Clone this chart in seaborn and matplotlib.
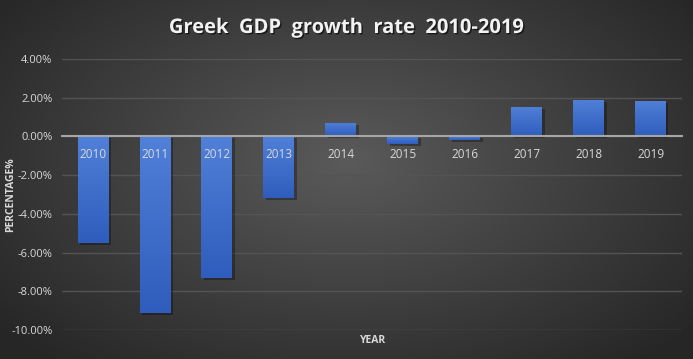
import numpy as np
import matplotlib
matplotlib.use("Agg")
import matplotlib.pyplot as plt
import matplotlib.patheffects as pe
from matplotlib.colors import LinearSegmentedColormap
import seaborn as sns
import pandas as pd

years = ['2010', '2011', '2012', '2013', '2014', '2015', '2016', '2017', '2018', '2019']
growth = [-5.5, -9.1, -7.3, -3.2, 0.7, -0.4, -0.2, 1.5, 1.9, 1.85]
y_ticks = [4, 2, 0, -2, -4, -6, -8, -10]

df = pd.DataFrame({'YEAR': years, 'growth': growth})

sns.set_theme(style='dark')
plt.rcParams['font.family'] = ['Open Sans', 'DejaVu Sans']

fig = plt.figure(figsize=(6.93, 3.59), dpi=100)

# radial grey background like the Excel style
bg = fig.add_axes([0, 0, 1, 1], zorder=-10)
yy, xx = np.mgrid[0:1:200j, 0:1:400j]
r = np.sqrt(((xx - 0.5) / 0.65) ** 2 + ((yy - 0.45) / 0.75) ** 2)
bg_cmap = LinearSegmentedColormap.from_list('bg', ['#5a5a5a', '#262626'])
bg.imshow(r, cmap=bg_cmap, aspect='auto', extent=[0, 1, 0, 1], vmin=0, vmax=1)
bg.axis('off')

ax = fig.add_axes([0.0895, 0.0808, 0.8945, 0.755])
ax.set_facecolor('none')
sns.barplot(data=df, x='YEAR', y='growth', color='#3a69c9', width=0.5,
            saturation=1, linewidth=0, edgecolor='none', ax=ax)

# gradient fill on each bar
bar_cmap = LinearSegmentedColormap.from_list('bar', ['#2f5dbd', '#5080d8'])
grad = np.linspace(0, 1, 100).reshape(-1, 1)
for p in ax.patches:
    x0, y0 = p.get_x(), p.get_y()
    w, h = p.get_width(), p.get_height()
    lo, hi = min(y0, y0 + h), max(y0, y0 + h)
    p.set_path_effects([pe.SimplePatchShadow(offset=(1.5, -1.5), shadow_rgbFace='black', alpha=0.3),
                        pe.Normal()])
    im = ax.imshow(grad, cmap=bar_cmap, aspect='auto', origin='lower',
                   extent=[x0, x0 + w, lo, hi], zorder=p.get_zorder() + 0.1)
    im.set_clip_path(p)

ax.set_xlim(-0.5, len(years) - 0.5)
ax.set_ylim(-10, 4)
ax.set_yticks(y_ticks)
ax.set_yticklabels([f'{v:.2f}%' for v in y_ticks])
ax.yaxis.grid(True, color='#545454', lw=1)
ax.set_axisbelow(True)
ax.xaxis.set_zorder(10)

for s in ['top', 'right', 'left']:
    ax.spines[s].set_visible(False)
ax.spines['bottom'].set_position(('data', 0))
ax.spines['bottom'].set_color('#a6a6a6')
ax.spines['bottom'].set_linewidth(1.5)
ax.spines['bottom'].set_zorder(5)

ax.tick_params(axis='x', length=0, pad=8, colors='#d9d9d9', labelsize=8.5)
ax.tick_params(axis='y', length=0, pad=7, colors='#d9d9d9', labelsize=8)

ax.set_ylabel('PERCENTAGE%', fontsize=7.5, fontweight='bold', color='#d9d9d9')
ax.yaxis.set_label_coords(-0.074, 0.5)
ax.set_xlabel('YEAR', fontsize=7.5, fontweight='bold', color='#d9d9d9')
ax.xaxis.set_label_coords(0.502, -0.02)

fig.text(0.5, 1 - 28 / 359, 'Greek  GDP  growth  rate  2010-2019', ha='center', va='center',
         fontsize=14.5, fontweight='bold', color='#f2f2f2',
         path_effects=[pe.withSimplePatchShadow(offset=(1, -1), shadow_rgbFace='black', alpha=0.6)])

fig.savefig('out.png', dpi=100)
